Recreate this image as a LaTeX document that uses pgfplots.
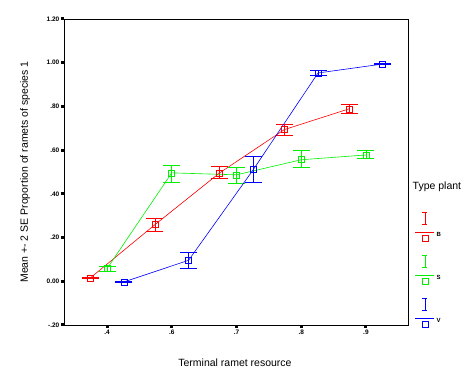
\documentclass[border=0pt]{standalone}
\usepackage{fontspec}
\setmainfont{Liberation Sans}
\usepackage{pgfplots}
\pgfplotsset{compat=1.18}
\usepackage{pgfplotstable}
\definecolor{cR}{RGB}{255,0,0}
\definecolor{cG}{RGB}{0,240,0}
\definecolor{cB}{RGB}{0,0,255}
\pgfplotstableread{
x y ep em
-0.26 0.015 0.003 0.003
0.74 0.259 0.030 0.032
1.74 0.496 0.028 0.027
2.74 0.694 0.024 0.026
3.74 0.789 0.022 0.023
}\tabB
\pgfplotstableread{
x y ep em
0.00 0.058 0.012 0.014
1.00 0.496 0.035 0.045
2.00 0.487 0.035 0.041
3.00 0.556 0.041 0.037
4.00 0.578 0.022 0.018
}\tabS
\pgfplotstableread{
x y ep em
0.26 -0.003 0.002 0.002
1.26 0.096 0.035 0.038
2.26 0.511 0.061 0.060
3.26 0.953 0.010 0.009
4.26 0.994 0.004 0.004
}\tabV
\begin{document}
\begin{tikzpicture}
\begin{axis}[
  scale only axis,
  width=344pt, height=306pt,
  xmin=-0.665, xmax=4.65,
  ymin=-0.2, ymax=1.2,
  clip=false,
  xtick={0,1,2,3,4},
  xticklabels={.4,.6,.7,.8,.9},
  ytick={-0.2,0,0.2,0.4,0.6,0.8,1.0,1.2},
  yticklabels={-.20,0.00,.20,.40,.60,.80,1.00,1.20},
  tick pos=left,
  tick align=outside,
  major tick length=3pt,
  major tick style={line width=3pt, black},
  axis line style={line width=0.8pt},
  /pgf/number format/assume math mode=true,
  ticklabel style={font=\fontsize{6.5}{7}\selectfont\bfseries, inner sep=1.5pt},
  xlabel={Terminal ramet resource},
  ylabel={Mean +- 2 SE Proportion of ramets of species 1},
  label style={font=\fontsize{10.5}{12}\selectfont},
  xlabel style={at={(axis description cs:0.497,-0.124)}, anchor=center},
  ylabel style={at={(axis description cs:-0.113,0.5)}, anchor=center},
  every axis plot/.append style={line width=0.6pt, mark=square, mark size=3pt,
     mark options={solid, line width=0.6pt},
     error bars/error bar style={line width=0.8pt},
     error bars/error mark options={line width=0.8pt, mark size=8.5pt, rotate=90}},
  legend image code/.code={
    \draw[#1, mark=none] (0pt,3pt) -- (19pt,3pt);
    \draw[#1, mark=none] (9.5pt,11pt) -- (9.5pt,23pt) (7pt,11pt) -- (12pt,11pt) (7pt,23pt) -- (12pt,23pt);
    \draw[#1, only marks] plot coordinates {(10pt,-3pt)};
  },
  legend style={at={(axis description cs:1.02,0.369)}, anchor=north west,
     draw=none, fill=none, inner sep=0pt, row sep=13.5pt,
     font=\fontsize{6}{6}\selectfont\bfseries,
     nodes={inner sep=2pt}, cells={anchor=west}},
]
\addplot[cR, error bars/.cd, y dir=both, y explicit]
  table[x=x, y=y, y error plus=ep, y error minus=em]{\tabB};
\addlegendentry{B}
\addplot[cG, error bars/.cd, y dir=both, y explicit]
  table[x=x, y=y, y error plus=ep, y error minus=em]{\tabS};
\addlegendentry{S}
\addplot[cB, error bars/.cd, y dir=both, y explicit]
  table[x=x, y=y, y error plus=ep, y error minus=em]{\tabV};
\addlegendentry{V}
\node[font=\fontsize{10.5}{12}\selectfont] at (axis description cs:1.084,0.451) {Type plant};
\end{axis}
\path (current axis.south west) ++(-64pt,-54pt) rectangle ++(473pt,379pt);
\end{tikzpicture}
\end{document}
